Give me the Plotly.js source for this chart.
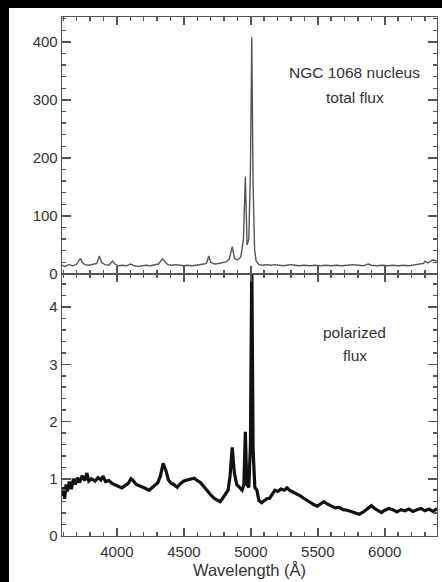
<!DOCTYPE html>
<html>
<head>
<meta charset="utf-8">
<script src="https://cdn.plot.ly/plotly-3.0.1.min.js"></script>
<style>
html,body{margin:0;padding:0;background:#fff;width:442px;height:582px;overflow:hidden;}
#chart{position:absolute;left:9px;top:8px;width:433px;height:574px;background:#fff;}
#barL{position:absolute;left:0;top:0;width:9px;height:582px;background:#000;}
#barT{position:absolute;left:0;top:0;width:442px;height:8px;background:#000;}
</style>
</head>
<body>
<div id="chart"></div>
<div id="barL"></div>
<div id="barT"></div>
<script>
// Total flux (upper panel)
var totalWave = [3590,3610,3640,3670,3700,3715,3727,3740,3760,3790,3820,3850,3869,3885,3910,3940,3968,3985,4010,4040,4070,4102,4130,4160,4190,4220,4250,4280,4310,4340,4363,4380,4410,4440,4470,4500,4530,4560,4590,4620,4650,4670,4686,4700,4730,4760,4790,4820,4840,4861,4878,4900,4925,4945,4959,4972,4985,4997,5007,5017,5028,5040,5060,5090,5120,5150,5180,5210,5240,5270,5300,5330,5360,5400,5440,5480,5520,5560,5600,5640,5680,5720,5760,5800,5840,5876,5900,5940,5980,6020,6060,6100,6140,6180,6220,6260,6290,6300,6320,6360,6390];
var totalFlux = [15,13,16,14,17,22,27,20,16,15,16,18,31,20,16,15,22,17,14,15,14,17,14,13,14,15,14,15,17,26,21,16,15,16,15,14,15,14,15,16,17,19,31,20,17,18,19,21,26,47,27,24,29,60,168,50,60,180,408,150,42,22,16,15,16,15,16,15,14,15,16,15,14,15,14,15,14,15,14,15,14,15,16,15,14,17,15,14,15,14,15,14,15,14,15,16,18,22,19,24,22];

// Polarized flux (lower panel)
var polWave = [3590,3600,3610,3620,3630,3645,3660,3675,3690,3705,3720,3740,3760,3776,3790,3810,3836,3860,3880,3896,3915,3940,3963,3985,4010,4037,4060,4085,4105,4120,4145,4170,4190,4215,4240,4260,4285,4305,4325,4345,4365,4385,4405,4425,4450,4475,4500,4525,4550,4575,4600,4625,4650,4675,4700,4725,4750,4770,4790,4810,4830,4845,4861,4877,4895,4915,4935,4948,4959,4970,4985,4997,5007,5017,5030,5045,5060,5080,5100,5120,5140,5160,5180,5200,5225,5250,5270,5295,5320,5345,5370,5395,5420,5445,5470,5495,5520,5545,5570,5600,5630,5660,5690,5720,5750,5780,5810,5840,5870,5900,5925,5950,5975,6000,6030,6060,6090,6120,6150,6180,6210,6240,6270,6300,6330,6360,6390];
var polFlux = [0.70,0.85,0.65,0.90,0.78,0.95,0.82,1.00,0.90,1.02,0.93,1.05,0.97,1.10,0.96,1.00,0.96,1.02,0.98,1.05,0.95,0.97,0.92,0.90,0.87,0.84,0.88,0.92,1.00,0.97,0.90,0.88,0.86,0.83,0.80,0.84,0.88,0.93,1.05,1.27,1.15,0.98,0.92,0.90,0.85,0.92,0.96,0.98,1.00,1.01,0.97,0.93,0.86,0.78,0.72,0.66,0.62,0.60,0.66,0.72,0.80,1.05,1.55,1.10,0.90,0.85,0.80,0.90,1.82,0.90,0.85,1.60,4.80,1.50,0.85,0.80,0.62,0.58,0.62,0.65,0.66,0.74,0.80,0.78,0.82,0.80,0.84,0.79,0.76,0.74,0.70,0.66,0.62,0.58,0.55,0.52,0.56,0.60,0.56,0.52,0.49,0.50,0.46,0.45,0.43,0.41,0.38,0.42,0.48,0.53,0.48,0.44,0.41,0.45,0.48,0.46,0.42,0.46,0.44,0.47,0.43,0.46,0.48,0.44,0.47,0.43,0.48];

var font = {family:'Liberation Sans, Arial, sans-serif', size:15, color:'#333'};
var annFont = {family:'Liberation Sans, Arial, sans-serif', size:15.5, color:'#333'};
var axColor = '#555';

function xAxis(opts){
  var a = {
    range:[3590,6390], showgrid:false, zeroline:false,
    showline:true, linecolor:axColor, linewidth:1.3, mirror:'allticks',
    tickmode:'linear', tick0:4000, dtick:500,
    ticks:'inside', ticklen:8, tickwidth:1.5, tickcolor:axColor,
    minor:{tickmode:'linear', tick0:4000, dtick:100, ticks:'inside', ticklen:4, tickcolor:axColor, tickwidth:1.5, showgrid:false},
    tickfont:font, ticklabelstandoff:2
  };
  for (var k in opts) a[k]=opts[k];
  return a;
}
function yAxis(opts){
  var a = {
    showgrid:false, zeroline:false,
    showline:true, linecolor:axColor, linewidth:1.3, mirror:'allticks',
    tickmode:'linear', tick0:0,
    ticks:'inside', ticklen:9, tickwidth:1.5, tickcolor:axColor,
    tickfont:font
  };
  for (var k in opts) a[k]=opts[k];
  return a;
}

var data = [
  {x:totalWave, y:totalFlux, xaxis:'x2', yaxis:'y2', type:'scatter', mode:'lines',
   line:{color:'#555', width:1.4}, hoverinfo:'skip'},
  {x:polWave, y:polFlux, xaxis:'x', yaxis:'y', type:'scatter', mode:'lines',
   line:{color:'#111', width:3.2}, hoverinfo:'skip'}
];

var layout = {
  width:433, height:574,
  margin:{l:53, r:5, t:9, b:46},
  paper_bgcolor:'#fff', plot_bgcolor:'#fff',
  showlegend:false,
  font:font,
  xaxis: xAxis({anchor:'y', title:{text:'Wavelength (Å)', font:{family:font.family, size:16.5, color:'#333'}, standoff:5}}),
  xaxis2: xAxis({anchor:'y2', matches:'x', showticklabels:false}),
  yaxis: yAxis({domain:[0,0.505], range:[0,4.58], dtick:1,
    minor:{tickmode:'linear', tick0:0, dtick:0.2, ticks:'inside', ticklen:4, tickcolor:axColor, tickwidth:1.5, showgrid:false}}),
  yaxis2: yAxis({domain:[0.505,1], range:[0,443], dtick:100,
    minor:{tickmode:'linear', tick0:0, dtick:20, ticks:'inside', ticklen:4, tickcolor:axColor, tickwidth:1.5, showgrid:false}}),
  annotations:[
    {xref:'paper', yref:'paper', x:0.781, y:0.894, xanchor:'center', yanchor:'middle', text:'NGC 1068 nucleus', showarrow:false, font:annFont},
    {xref:'paper', yref:'paper', x:0.781, y:0.844, xanchor:'center', yanchor:'middle', text:'total flux', showarrow:false, font:annFont},
    {xref:'paper', yref:'paper', x:0.781, y:0.393, xanchor:'center', yanchor:'middle', text:'polarized', showarrow:false, font:annFont},
    {xref:'paper', yref:'paper', x:0.781, y:0.347, xanchor:'center', yanchor:'middle', text:'flux', showarrow:false, font:annFont}
  ]
};

Plotly.newPlot('chart', data, layout, {staticPlot:true, displayModeBar:false});
</script>
</body>
</html>
